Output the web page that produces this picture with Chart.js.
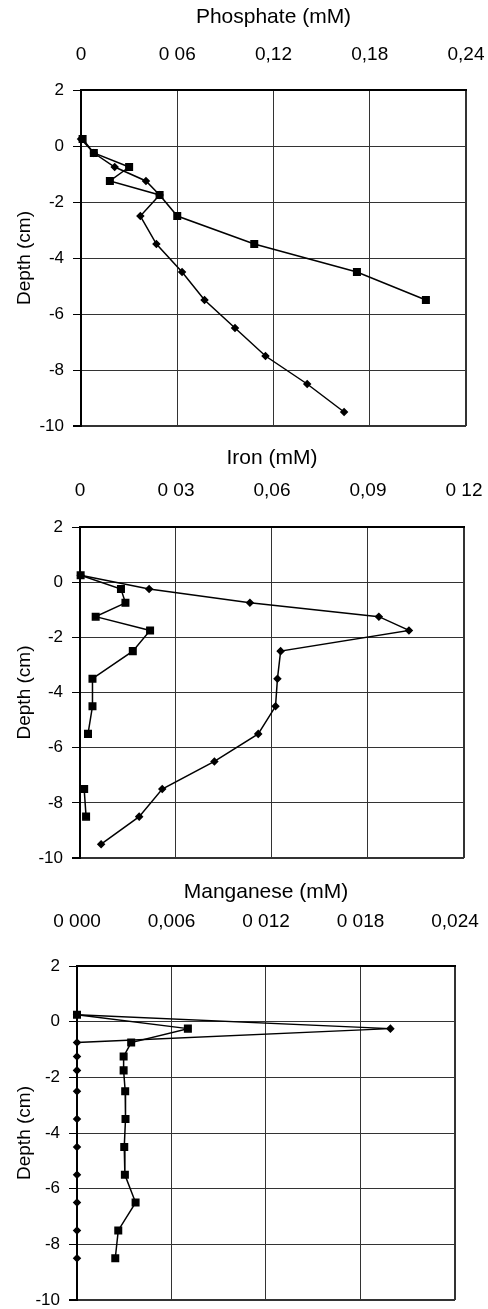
<!DOCTYPE html>
<html><head><meta charset="utf-8">
<script src="https://cdn.jsdelivr.net/npm/chart.js@4/dist/chart.umd.min.js"></script>
<style>
html,body{margin:0;padding:0;background:#fff;width:488px;height:1309px;overflow:hidden;}
canvas{position:absolute;left:0;}
</style></head><body>
<canvas id="c1"></canvas><canvas id="c2"></canvas><canvas id="c3"></canvas>
<script>
// ---- data ----
const depthTicks = [-10, -8, -6, -4, -2, 0, 2];
const depths = [0.25, -0.25, -0.75, -1.25, -1.75, -2.5, -3.5, -4.5, -5.5, -6.5, -7.5, -8.5, -9.5];

const phosphateTicks = [0, 0.06, 0.12, 0.18, 0.24];
const phosphateTickLabels = ['0', '0 06', '0,12', '0,18', '0,24'];
const phosphateDiamond = [0, 0.008, 0.021, 0.0405, 0.049, 0.037, 0.047, 0.063, 0.077, 0.096, 0.115, 0.141, 0.164];
const phosphateSquare = [0.001, 0.008, 0.030, 0.018, 0.049, 0.060, 0.108, 0.172, 0.215];

const ironTicks = [0, 0.03, 0.06, 0.09, 0.12];
const ironTickLabels = ['0', '0 03', '0,06', '0,09', '0 12'];
const ironDiamond = [0.0002, 0.0216, 0.0531, 0.0934, 0.1028, 0.0627, 0.0617, 0.0611, 0.0557, 0.042, 0.0257, 0.0185, 0.0066];
const ironSquare = [0.0002, 0.0128, 0.0142, 0.0049, 0.0219, 0.0165, 0.0039, 0.0039, 0.0025, null, 0.0013, 0.0019];

const manganeseTicks = [0, 0.006, 0.012, 0.018, 0.024];
const manganeseTickLabels = ['0 000', '0,006', '0 012', '0 018', '0,024'];
const manganeseDiamond = [0, 0.0199, 0, 0, 0, 0, 0, 0, 0, 0, 0, 0];
const manganeseSquare = [0, 0.00704, 0.00344, 0.00296, 0.00296, 0.00306, 0.00308, 0.0030, 0.00304, 0.00372, 0.00262, 0.00243];

// ---- helpers ----
Chart.defaults.font.family = "'Liberation Sans', Arial, sans-serif";
Chart.defaults.color = '#000';

function pts(values) {
  return values.map((v, i) => ({ x: v, y: depths[i] }));
}

function makePanel(id, cfg) {
  const cv = document.getElementById(id);
  cv.style.top = cfg.top + 'px';
  cv.style.width = '488px';
  cv.style.height = cfg.height + 'px';
  cv.width = 488; cv.height = cfg.height;
  const lastX = cfg.ticks.length - 1;
  new Chart(cv, {
    type: 'scatter',
    data: {
      datasets: [
        { data: pts(cfg.diamond), showLine: true, borderColor: '#000', backgroundColor: '#000',
          borderWidth: 1.5, pointStyle: 'rectRot', pointRadius: 3.2, pointHoverRadius: 3.2,
          spanGaps: false, clip: false, tension: 0 },
        { data: pts(cfg.square), showLine: true, borderColor: '#000', backgroundColor: '#000',
          borderWidth: 1.5, pointStyle: 'rect', pointRadius: 4.6, pointHoverRadius: 4.6,
          spanGaps: false, clip: false, tension: 0 }
      ]
    },
    options: {
      responsive: false, animation: false, events: [],
      layout: { padding: { left: 0, top: 0, right: cfg.padRight, bottom: cfg.padBottom } },
      plugins: { legend: { display: false }, tooltip: { enabled: false } },
      scales: {
        x: {
          type: 'linear', position: 'top', min: cfg.ticks[0], max: cfg.ticks[lastX] * (1 + 1e-9),
          afterBuildTicks: s => { s.ticks = cfg.ticks.map(v => ({ value: v })); },
          afterFit: s => { s.height = cfg.xHeight; },
          ticks: { callback: (v, i) => cfg.labels[i], font: { size: 19 }, padding: 2,
                   maxRotation: 0, autoSkip: false, color: '#000' },
          grid: { color: '#333', lineWidth: c => (c.index === lastX ? 2 : 1), tickLength: cfg.xTickLen,
                  tickColor: 'rgba(0,0,0,0)' },
          border: { color: '#000', width: 2 },
          title: { display: true, text: cfg.title, font: { size: 21 }, color: '#000',
                   padding: { top: cfg.titlePad, bottom: 0 } }
        },
        y: {
          type: 'linear', min: -10, max: 2,
          afterBuildTicks: s => { s.ticks = depthTicks.map(v => ({ value: v })); },
          afterFit: s => { s.width = cfg.left; },
          ticks: { callback: v => String(v), font: { size: 17, lineHeight: 1 }, padding: 9, color: '#000' },
          grid: { color: '#333', lineWidth: c => (c.index === 0 ? 2 : 1), tickLength: 8, tickColor: '#000' },
          border: { color: '#000', width: 2 },
          title: { display: true, text: 'Depth (cm)', font: { size: 19 }, color: '#000',
                   padding: { top: 13, bottom: 0 } }
        }
      }
    }
  });
}

makePanel('c1', { top: 0, height: 446, left: 81, xHeight: 90, padRight: 22, padBottom: 20,
  ticks: phosphateTicks, labels: phosphateTickLabels, title: 'Phosphate (mM)',
  diamond: phosphateDiamond, square: phosphateSquare, titlePad: 5, xTickLen: 22 });
makePanel('c2', { top: 440, height: 438, left: 80, xHeight: 87, padRight: 24, padBottom: 20,
  ticks: ironTicks, labels: ironTickLabels, title: 'Iron (mM)',
  diamond: ironDiamond, square: ironSquare, titlePad: 6, xTickLen: 22.5 });
makePanel('c3', { top: 872, height: 448, left: 77, xHeight: 94, padRight: 33, padBottom: 20,
  ticks: manganeseTicks, labels: manganeseTickLabels, title: 'Manganese (mM)',
  diamond: manganeseDiamond, square: manganeseSquare, titlePad: 7.5, xTickLen: 30.5 });
</script>
</body></html>
